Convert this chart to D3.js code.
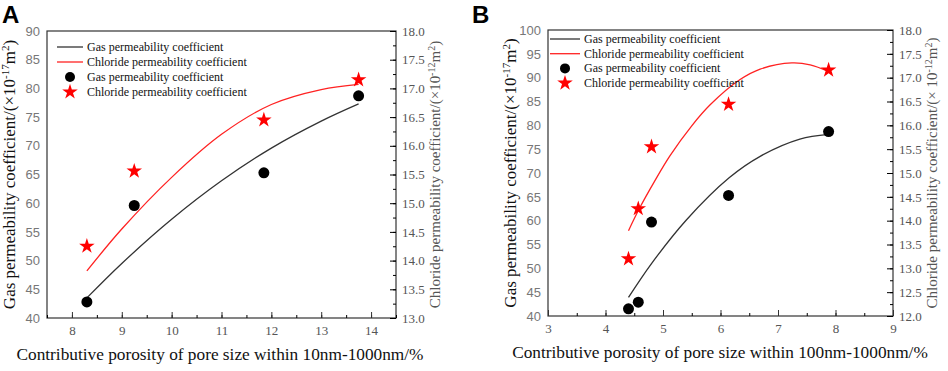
<!DOCTYPE html>
<html>
<head>
<meta charset="utf-8">
<script src="https://cdn.jsdelivr.net/npm/d3@7"></script>
<style>
body { margin: 0; background: #fff; }
</style>
</head>
<body>
<svg id="chart" width="948" height="371"></svg>
<script>
// Panel A data (x = porosity 10nm-1000nm)
const aGasX = [8.3, 9.25, 11.85, 13.75];
const aGasY = [42.8, 59.6, 65.3, 78.7];
const aClX = [8.3, 9.25, 11.85, 13.75];
const aClY = [14.25, 15.56, 16.45, 17.15];
// fitted curves
const aGasFitX = [8.3, 9, 10, 11, 12, 13, 13.75];
const aGasFitY = [43.5, 49.5, 57.2, 63.9, 69.6, 74.3, 77.3];
const aClFitX = [8.3, 9, 10, 11, 12, 13, 13.75];
const aClFitY = [13.82, 14.55, 15.45, 16.2, 16.72, 16.98, 17.07];

// Panel B data (x = porosity 100nm-1000nm)
const bGasX = [4.4, 4.57, 4.8, 6.14, 7.88];
const bGasY = [41.5, 42.9, 59.7, 65.3, 78.7];
const bClX = [4.4, 4.57, 4.8, 6.14, 7.88];
const bClY = [13.2, 14.25, 15.55, 16.44, 17.16];
const bGasFitX = [4.4, 4.8, 5.41, 6.15, 6.69, 7.38, 7.88];
const bGasFitY = [43.9, 51.0, 60.2, 69.0, 73.5, 77.1, 78.1];
const bClFitX = [4.4, 4.6, 4.85, 5.12, 5.5, 5.82, 6.34, 6.69, 7.24, 7.56, 7.88];
const bClFitY = [13.79, 14.28, 14.82, 15.36, 15.99, 16.43, 16.96, 17.18, 17.31, 17.27, 17.13];

const legendLabels = ["Gas permeability coefficient", "Chloride permeability coefficient",
	"Gas permeability coefficient", "Chloride permeability coefficient"];

const SERIF = "Liberation Serif, DejaVu Serif, serif";
const svg = d3.select("#chart");

function panel(opt) {
	let g = svg.append("g");
	let x = d3.scaleLinear().domain(opt.xDomain).range([opt.left, opt.right]);
	let yL = d3.scaleLinear().domain([40, opt.yMax]).range([opt.bottom, opt.top]);
	let yR = d3.scaleLinear().domain(opt.rDomain).range([opt.bottom, opt.top]);

	// frame
	g.append("rect")
		.attr("x", opt.left).attr("y", opt.top)
		.attr("width", opt.right - opt.left).attr("height", opt.bottom - opt.top)
		.attr("fill", "none").attr("stroke", "#333").attr("stroke-width", 1.2);

	// bottom axis, ticks inward + minor
	let xMinor = d3.range(opt.xDomain[0], opt.xDomain[1] + 0.01, 0.5);
	g.append("g").attr("transform", `translate(0,${opt.bottom})`)
		.call(d3.axisBottom(x).tickValues(xMinor).tickSize(-3).tickFormat(""))
		.call(s => s.select(".domain").remove());
	let xMajor = d3.range(Math.ceil(opt.xDomain[0]), opt.xDomain[1] + 0.01, 1);
	let xa = g.append("g").attr("transform", `translate(0,${opt.bottom})`)
		.call(d3.axisBottom(x).tickValues(xMajor).tickSize(-6).tickPadding(8).tickFormat(d3.format("d")));
	xa.select(".domain").remove();
	xa.selectAll("line").attr("stroke", "#333");
	xa.selectAll("text").attr("font-size", 13).attr("fill", "#555").attr("font-family", SERIF);

	// left axis, labels only
	let la = g.append("g").attr("transform", `translate(${opt.left},0)`)
		.call(d3.axisLeft(yL).tickValues(d3.range(40, opt.yMax + 1, 5)).tickSize(0).tickPadding(7));
	la.select(".domain").remove();
	la.selectAll("text").attr("font-size", 13).attr("fill", "#777")
		.attr("font-family", "Liberation Sans Narrow, Liberation Sans, sans-serif");

	// right axis, ticks inward + minor
	g.append("g").attr("transform", `translate(${opt.right},0)`)
		.call(d3.axisRight(yR).tickValues(d3.range(opt.rDomain[0], opt.rDomain[1] + 0.01, 0.25)).tickSize(-3).tickFormat(""))
		.call(s => s.select(".domain").remove());
	let ra = g.append("g").attr("transform", `translate(${opt.right},0)`)
		.call(d3.axisRight(yR).tickValues(d3.range(opt.rDomain[0], opt.rDomain[1] + 0.01, 0.5))
			.tickSize(-6).tickPadding(6).tickFormat(d3.format(".1f")));
	ra.select(".domain").remove();
	ra.selectAll("text").attr("font-size", 13).attr("fill", "#555").attr("font-family", SERIF);

	// fitted curves
	let lineL = d3.line().x(d => x(d[0])).y(d => yL(d[1])).curve(d3.curveCatmullRom);
	let lineR = d3.line().x(d => x(d[0])).y(d => yR(d[1])).curve(d3.curveCatmullRom);
	g.append("path").attr("d", lineL(d3.zip(opt.gasFitX, opt.gasFitY)))
		.attr("fill", "none").attr("stroke", "#333").attr("stroke-width", 1.3);
	g.append("path").attr("d", lineR(d3.zip(opt.clFitX, opt.clFitY)))
		.attr("fill", "none").attr("stroke", "#f22").attr("stroke-width", 1.3);

	// points
	g.selectAll("circle.gas").data(d3.zip(opt.gasX, opt.gasY)).join("circle")
		.attr("cx", d => x(d[0])).attr("cy", d => yL(d[1])).attr("r", 5.5).attr("fill", "#000");
	let star = d3.symbol().type(d3.symbolStar).size(75);
	g.selectAll("path.cl").data(d3.zip(opt.clX, opt.clY)).join("path")
		.attr("class", "cl")
		.attr("d", star)
		.attr("transform", d => `translate(${x(d[0])},${yR(d[1])})`)
		.attr("fill", "#f00");

	// legend
	let lg = g.append("g");
	legendLabels.forEach((t, i) => {
		let ly = opt.legY + i * opt.legStep;
		if (i < 2) {
			lg.append("line").attr("x1", opt.legX).attr("x2", opt.legX + opt.legLen)
				.attr("y1", ly).attr("y2", ly)
				.attr("stroke", i == 0 ? "#333" : "#f22").attr("stroke-width", 1.3);
		} else if (i == 2) {
			lg.append("circle").attr("cx", opt.legX + opt.legLen / 2).attr("cy", ly).attr("r", 5).attr("fill", "#000");
		} else {
			lg.append("path").attr("d", star).attr("transform", `translate(${opt.legX + opt.legLen / 2},${ly})`).attr("fill", "#f00");
		}
		lg.append("text").attr("x", opt.legX + opt.legLen + 4).attr("y", ly + 4)
			.attr("font-size", 12).attr("fill", "#111").attr("font-family", SERIF).text(t);
	});

	// axis titles
	let lt = g.append("text")
		.attr("transform", `translate(${opt.left - 32},${(opt.top + opt.bottom) / 2}) rotate(-90)`)
		.attr("text-anchor", "middle").attr("font-size", 17).attr("fill", "#111").attr("font-family", SERIF);
	lt.append("tspan").text("Gas permeability coefficient/(×10");
	lt.append("tspan").attr("baseline-shift", "super").attr("font-size", 11).text("-17");
	lt.append("tspan").text("m");
	lt.append("tspan").attr("baseline-shift", "super").attr("font-size", 11).text("2");
	lt.append("tspan").text(")");

	let rt = g.append("text")
		.attr("transform", `translate(${opt.right + 44},${(opt.top + opt.bottom) / 2}) rotate(-90)`)
		.attr("text-anchor", "middle").attr("font-size", 15).attr("fill", "#555").attr("font-family", SERIF);
	rt.append("tspan").text("Chloride permeability coefficient/(" + opt.rTimes + "10");
	rt.append("tspan").attr("baseline-shift", "super").attr("font-size", 10).text("-12");
	rt.append("tspan").text("m");
	rt.append("tspan").attr("baseline-shift", "super").attr("font-size", 10).text("2");
	rt.append("tspan").text(")");

	g.append("text").attr("x", opt.xTitleX).attr("y", opt.bottom + 42)
		.attr("text-anchor", "middle").attr("font-size", 17.3).attr("fill", "#111")
		.attr("font-family", SERIF).text(opt.xTitle);

	g.append("text").attr("x", opt.labX).attr("y", 23)
		.attr("font-size", 24).attr("font-weight", "bold")
		.attr("font-family", "Liberation Sans, Arial, sans-serif").text(opt.label);
}

panel({
	label: "A", labX: 2,
	left: 47, right: 396, top: 31, bottom: 318,
	xDomain: [7.5, 14.5], yMax: 90, rDomain: [13, 18], rTimes: "×",
	gasX: aGasX, gasY: aGasY, clX: aClX, clY: aClY,
	gasFitX: aGasFitX, gasFitY: aGasFitY, clFitX: aClFitX, clFitY: aClFitY,
	legX: 57, legY: 47, legStep: 15, legLen: 26,
	xTitleX: 220,
	xTitle: "Contributive porosity of pore size within 10nm-1000nm/%"
});

panel({
	label: "B", labX: 472,
	left: 548, right: 893, top: 30, bottom: 316,
	xDomain: [3, 9], yMax: 100, rDomain: [12, 18], rTimes: "× ",
	gasX: bGasX, gasY: bGasY, clX: bClX, clY: bClY,
	gasFitX: bGasFitX, gasFitY: bGasFitY, clFitX: bClFitX, clFitY: bClFitY,
	legX: 550, legY: 39, legStep: 14.7, legLen: 30,
	xTitleX: 720,
	xTitle: "Contributive porosity of pore size within 100nm-1000nm/%"
});
</script>
</body>
</html>
